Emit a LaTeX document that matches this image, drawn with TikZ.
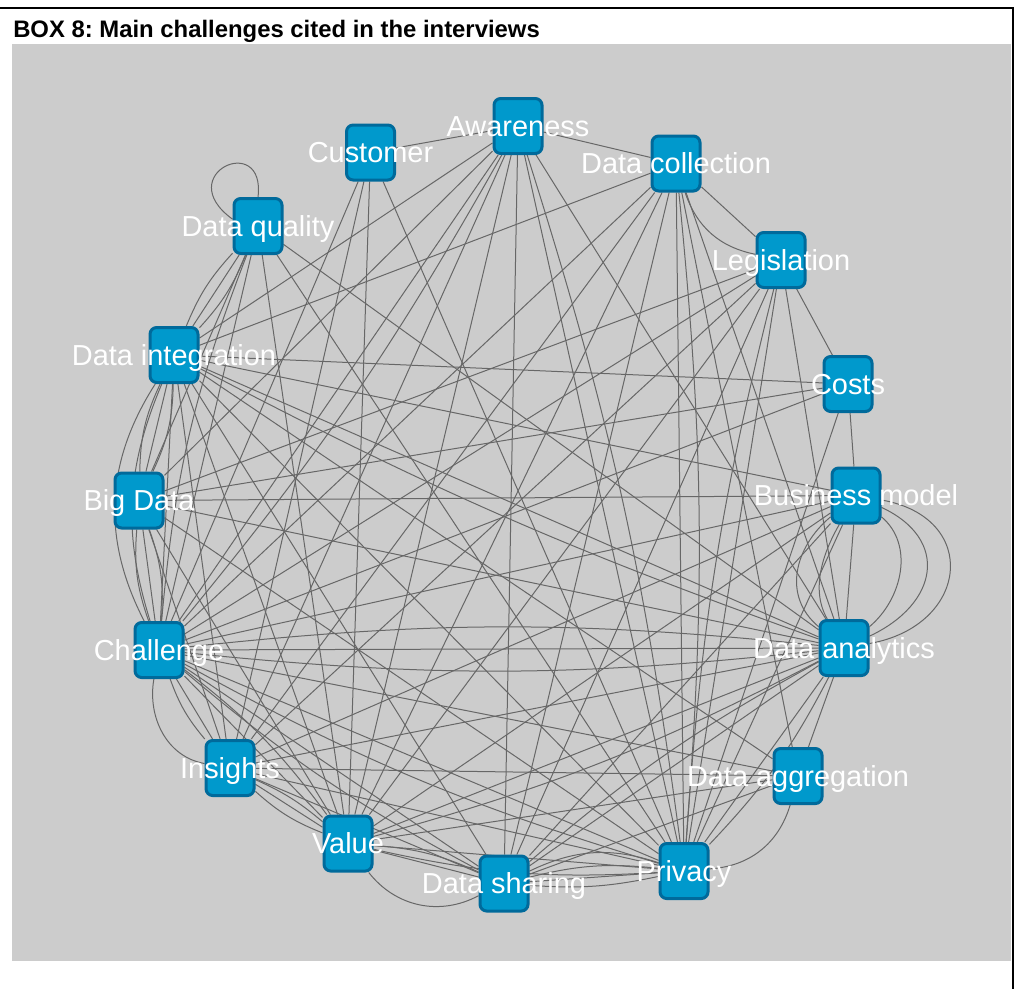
\documentclass[tikz,border=0pt]{standalone}
\usepackage{fontspec}
\setmainfont{Liberation Sans}
\frenchspacing
\definecolor{nodeblue}{HTML}{0099CC}
\definecolor{nodeedge}{HTML}{006A9B}
\definecolor{paneGrey}{HTML}{CCCCCC}
\definecolor{linkgrey}{HTML}{676767}
\pgfdeclarelayer{paper}
\pgfdeclarelayer{links}
\pgfsetlayers{paper,links,main}
\tikzset{
  topic/.style={rectangle, rounded corners=5pt, fill=nodeblue, draw=nodeedge,
    line width=2.25pt, minimum width=36pt, minimum height=41.25pt, inner sep=0pt},
  tag/.style={anchor=base, text=white, inner sep=0pt,
    font=\fontsize{21.7}{24}\selectfont},
  link/.style={draw=linkgrey, line width=0.75pt},
}
\begin{document}
\begin{tikzpicture}[x=0.75pt,y=0.75pt]
\useasboundingbox (0,0) rectangle (1019,-989);

% page, frame and grey pane
\begin{pgfonlayer}{paper}
  \fill[white] (0,0) rectangle (1019,-989);
  \fill[paneGrey] (12,-44) rectangle (1011,-961);
  \draw[line width=1.6pt] (0,-8.3) -- (1013,-8.3) -- (1013,-989);
\end{pgfonlayer}
\node[anchor=base west, inner sep=0pt, font=\bfseries\fontsize{17.9}{20}\selectfont]
  (title) at (13,-37) {BOX 8: Main challenges cited in the interviews};

% topics
\node[topic] (cust)   at (370.5,-152.5) {};
\node[topic] (aware)  at (518,-126) {};
\node[topic] (dcoll)  at (676,-163.5) {};
\node[topic] (legis)  at (781,-260) {};
\node[topic] (costs)  at (848,-384) {};
\node[topic] (bmodel) at (856,-495.5) {};
\node[topic] (danal)  at (844,-648) {};
\node[topic] (daggr)  at (798,-776) {};
\node[topic] (priv)   at (684,-871) {};
\node[topic] (dshar)  at (504,-883.5) {};
\node[topic] (value)  at (348,-843.5) {};
\node[topic] (insig)  at (230,-768) {};
\node[topic] (chall)  at (159,-650) {};
\node[topic] (bigd)   at (139,-500.5) {};
\node[topic] (dinteg) at (174,-355) {};
\node[topic] (dqual)  at (258,-226) {};

% co-occurrence links
\begin{pgfonlayer}{links}
  % neighbours on the ring
  \draw[link] (cust) -- (aware);
  \draw[link] (aware) -- (dcoll);
  \draw[link] (dcoll) -- (legis);
  \draw[link] (dcoll) to[bend right=30] (legis);
  \draw[link] (legis) -- (costs);
  \draw[link] (costs) -- (bmodel);
  \draw[link] (bmodel) -- (danal);
  \draw[link] (bmodel) to[out=-140,in=140,looseness=1.1] (danal);
  \draw[link] (bmodel) to[out=-120,in=120,looseness=0.9] (danal);
  \draw[link] (bmodel) to[out=-40,in=40,looseness=1.0] (danal);
  \draw[link] (bmodel) to[out=-25,in=25,looseness=1.5] (danal);
  \draw[link] (bmodel) to[out=-10,in=10,looseness=1.8] (danal);
  \draw[link] (danal) -- (daggr);
  \draw[link] (daggr) to[bend left=35] (priv);
  \draw[link] (priv) -- (dshar);
  \draw[link] (priv) to[bend left=8] (dshar);
  \draw[link] (priv) to[bend right=10] (dshar);
  \draw[link] (priv) to[bend right=22] (dshar);
  \draw[link] (value) -- (dshar);
  \draw[link] (value) to[bend left=10] (dshar);
  \draw[link] (value) to[bend right=40] (dshar);
  \draw[link] (insig) -- (value);
  \draw[link] (insig) to[bend left=8] (value);
  \draw[link] (insig) to[bend right=10] (value);
  \draw[link] (chall) -- (insig);
  \draw[link] (chall) to[bend right=10] (insig);
  \draw[link] (chall) to[out=-100,in=170] (insig);
  \draw[link] (chall) -- (bigd);
  \draw[link] (chall) to[bend left=12] (bigd);
  \draw[link] (chall) to[bend right=12] (bigd);
  \draw[link] (bigd) -- (dinteg);
  \draw[link] (bigd) to[bend left=12] (dinteg);
  \draw[link] (bigd) to[bend right=12] (dinteg);
  \draw[link] (dinteg) -- (dqual);
  \draw[link] (dinteg) to[bend left=10] (dqual);
  \draw[link] (dinteg) to[bend right=10] (dqual);
  \draw[link] (chall) -- (dinteg);
  \draw[link] (chall) to[bend left=20] (dinteg);
  \draw[link] (chall) to[bend left=30] (dinteg);
  \draw[link] (chall) -- (dqual);
  \draw[link] (chall) to[bend left=8] (dqual);
  \draw[link] (bigd) -- (dqual);
  \draw[link] (dqual.165) .. controls +(-62,45) and +(8,66) .. (dqual.north);
  % Customer
  \draw[link] (cust) -- (chall);
  \draw[link] (cust) -- (insig);
  \draw[link] (cust) -- (value);
  \draw[link] (cust) -- (priv);
  % Awareness
  \draw[link] (aware) -- (chall);
  \draw[link] (aware) to[bend left=5] (chall);
  \draw[link] (aware) -- (bigd);
  \draw[link] (aware) -- (dinteg);
  \draw[link] (aware) -- (insig);
  \draw[link] (aware) -- (value);
  \draw[link] (aware) -- (dshar);
  \draw[link] (aware) -- (priv);
  \draw[link] (aware) to[bend left=5] (priv);
  \draw[link] (aware) -- (danal);
  % Data collection
  \draw[link] (dcoll) -- (dinteg);
  \draw[link] (dcoll) -- (chall);
  \draw[link] (dcoll) -- (insig);
  \draw[link] (dcoll) -- (value);
  \draw[link] (dcoll) -- (dshar);
  \draw[link] (dcoll) -- (priv);
  \draw[link] (dcoll) to[bend left=5] (priv);
  \draw[link] (dcoll) -- (daggr);
  \draw[link] (dcoll) -- (danal);
  % Legislation
  \draw[link] (legis) -- (chall);
  \draw[link] (legis) -- (bigd);
  \draw[link] (legis) -- (insig);
  \draw[link] (legis) -- (priv);
  \draw[link] (legis) to[bend right=5] (priv);
  \draw[link] (legis) -- (dshar);
  \draw[link] (legis) -- (danal);
  \draw[link] (legis) -- (value);
  % Costs
  \draw[link] (costs) -- (dinteg);
  \draw[link] (costs) -- (bigd);
  \draw[link] (costs) -- (chall);
  \draw[link] (costs) -- (priv);
  % Business model
  \draw[link] (bmodel) -- (dinteg);
  \draw[link] (bmodel) -- (bigd);
  \draw[link] (bmodel) -- (chall);
  \draw[link] (bmodel) -- (insig);
  \draw[link] (bmodel) -- (value);
  \draw[link] (bmodel) -- (dshar);
  \draw[link] (bmodel) -- (priv);
  % Data analytics
  \draw[link] (danal) -- (dinteg);
  \draw[link] (danal) to[bend left=4] (dinteg);
  \draw[link] (danal) -- (bigd);
  \draw[link] (danal) -- (chall);
  \draw[link] (danal) to[bend left=6] (chall);
  \draw[link] (danal) to[bend right=6] (chall);
  \draw[link] (danal) -- (insig);
  \draw[link] (danal) -- (value);
  \draw[link] (danal) to[bend left=6] (value);
  \draw[link] (danal) -- (dshar);
  \draw[link] (danal) to[bend right=6] (dshar);
  \draw[link] (danal) -- (priv);
  \draw[link] (danal) to[bend left=8] (priv);
  \draw[link] (danal) -- (dqual);
  % Data aggregation
  \draw[link] (daggr) -- (chall);
  \draw[link] (daggr) -- (insig);
  \draw[link] (daggr) -- (value);
  \draw[link] (daggr) -- (dinteg);
  \draw[link] (daggr) -- (dshar);
  % Privacy
  \draw[link] (priv) -- (chall);
  \draw[link] (priv) to[bend left=6] (chall);
  \draw[link] (priv) -- (dinteg);
  \draw[link] (priv) -- (bigd);
  \draw[link] (priv) -- (insig);
  \draw[link] (priv) -- (value);
  \draw[link] (priv) to[bend left=8] (value);
  \draw[link] (priv) -- (dqual);
  % Data sharing
  \draw[link] (dshar) -- (chall);
  \draw[link] (dshar) to[bend left=6] (chall);
  \draw[link] (dshar) -- (dinteg);
  \draw[link] (dshar) -- (insig);
  % Value
  \draw[link] (value) -- (chall);
  \draw[link] (value) to[bend right=8] (chall);
  \draw[link] (value) -- (dinteg);
  \draw[link] (value) -- (bigd);
  \draw[link] (value) -- (dqual);
  % Insights
  \draw[link] (insig) -- (dinteg);
  \draw[link] (insig) -- (bigd);
\end{pgfonlayer}

% labels
\path (cust.center)   ++(0,-10) node[tag] {Customer};
\path (aware.center)  ++(0,-10) node[tag] {Awareness};
\path (dcoll.center)  ++(0,-10) node[tag] {Data collection};
\path (legis.center)  ++(0,-10) node[tag] {Legislation};
\path (costs.center)  ++(0,-10) node[tag] {Costs};
\path (bmodel.center) ++(0,-10) node[tag] {Business model};
\path (danal.center)  ++(0,-10) node[tag] {Data analytics};
\path (daggr.center)  ++(0,-10) node[tag] {Data aggregation};
\path (priv.center)   ++(0,-10) node[tag] {Privacy};
\path (dshar.center)  ++(0,-10) node[tag] {Data sharing};
\path (value.center)  ++(0,-10) node[tag] {Value};
\path (insig.center)  ++(0,-10) node[tag] {Insights};
\path (chall.center)  ++(0,-10) node[tag] {Challenge};
\path (bigd.center)   ++(0,-10) node[tag] {Big Data};
\path (dinteg.center) ++(0,-10) node[tag] {Data integration};
\path (dqual.center)  ++(0,-10) node[tag] {Data quality};
\end{tikzpicture}
\end{document}
